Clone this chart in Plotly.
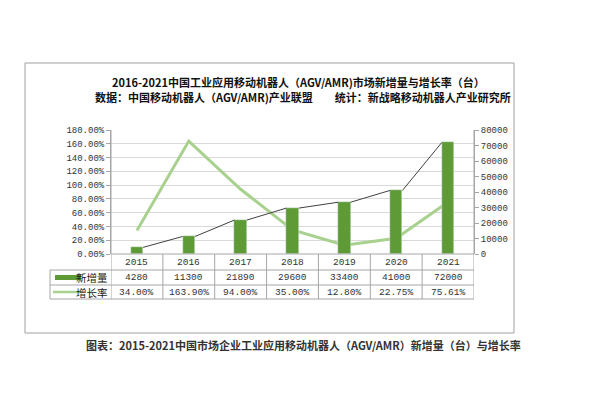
import plotly.graph_objects as go

years = ["2015", "2016", "2017", "2018", "2019", "2020", "2021"]
new_units = [4280, 11300, 21890, 29600, 33400, 41000, 72000]
growth_pct = [34.00, 163.90, 94.00, 35.00, 12.80, 22.75, 75.61]
growth_labels = ["34.00%", "163.90%", "94.00%", "35.00%", "12.80%", "22.75%", "75.61%"]

title1 = "2016-2021中国工业应用移动机器人（AGV/AMR)市场新增量与增长率（台）"
title2 = "数据：中国移动机器人（AGV/AMR)产业联盟　　统计：新战略移动机器人产业研究所"
caption = "图表：2015-2021中国市场企业工业应用移动机器人（AGV/AMR）新增量（台）与增长率"
series_names = ["新增量", "增长率"]

W, H = 590, 395
L, R, T, B = 103, 466, 122, 246
BAR_C = "#5E9A35"
LINE_C = "#A9D18E"
GRID_C = "#D9D9D9"
AX_C = "#A6A6A6"
MONO = "Liberation Mono"
CJK = "Noto Sans CJK SC"

def xp(px):
    return (px - L) / (R - L)

def yp(py):
    return (B - py) / (B - T)

n = len(years)
xs = list(range(n))
bw = 0.24

fig = go.Figure()
fig.add_trace(go.Bar(x=xs, y=new_units, width=bw, marker_color=BAR_C,
                     yaxis="y2", name=series_names[0], showlegend=False))
# series lines between bar tops
sx, sy = [], []
for i in range(n - 1):
    sx += [xs[i] + bw / 2, xs[i + 1] - bw / 2, None]
    sy += [new_units[i], new_units[i + 1], None]
fig.add_trace(go.Scatter(x=sx, y=sy, mode="lines", yaxis="y2",
                         line=dict(color="#404040", width=1), showlegend=False,
                         hoverinfo="skip"))
fig.add_trace(go.Scatter(x=xs, y=growth_pct, mode="lines", name=series_names[1],
                         line=dict(color=LINE_C, width=3), showlegend=False))

shapes = []
anns = []
# table geometry
rows = [246, 262, 277, 291]
tl = 42
line = dict(color=AX_C, width=1)
shapes.append(dict(type="line", xref="paper", yref="paper", x0=xp(L), x1=xp(R),
                   y0=yp(rows[0]), y1=yp(rows[0]), line=line))
for r in rows[1:]:
    shapes.append(dict(type="line", xref="paper", yref="paper", x0=xp(tl), x1=xp(R),
                       y0=yp(r), y1=yp(r), line=line))
shapes.append(dict(type="line", xref="paper", yref="paper", x0=xp(tl), x1=xp(tl),
                   y0=yp(rows[1]), y1=yp(rows[3]), line=line))
for i in range(n + 1):
    xv = i - 0.5
    shapes.append(dict(type="line", xref="x", yref="paper", x0=xv, x1=xv,
                       y0=yp(rows[3]), y1=yp(rows[0]) if 0 < i < n else 1,
                       line=line))
# legend keys
shapes.append(dict(type="line", xref="paper", yref="paper", x0=xp(47), x1=xp(73),
                   y0=yp(269.5), y1=yp(269.5), line=dict(color=BAR_C, width=5)))
shapes.append(dict(type="line", xref="paper", yref="paper", x0=xp(45), x1=xp(74),
                   y0=yp(284), y1=yp(284), line=dict(color=LINE_C, width=2.5)))
for k, nm in enumerate(series_names):
    anns.append(dict(text=nm, xref="paper", yref="paper", x=xp(102), y=yp((rows[k + 1] + rows[k + 2]) / 2),
                     xanchor="right", yanchor="middle", showarrow=False,
                     font=dict(family=CJK, size=10.5, color="#222")))
for i in range(n):
    anns.append(dict(text=years[i], xref="x", yref="paper", x=xs[i], y=yp((rows[0] + rows[1]) / 2),
                     showarrow=False, yanchor="middle", font=dict(family=MONO, size=9.5, color="#333")))
    anns.append(dict(text=str(new_units[i]), xref="x", yref="paper", x=xs[i], y=yp((rows[1] + rows[2]) / 2),
                     showarrow=False, yanchor="middle", font=dict(family=MONO, size=9.5, color="#333")))
    anns.append(dict(text=growth_labels[i], xref="x", yref="paper", x=xs[i], y=yp((rows[2] + rows[3]) / 2),
                     showarrow=False, yanchor="middle", font=dict(family=MONO, size=9.5, color="#333")))
# titles
anns.append(dict(text="<b>" + title1 + "</b>", xref="paper", yref="paper", x=xp(290), y=yp(74),
                 showarrow=False, yanchor="middle", font=dict(family=CJK, size=11, color="#111")))
anns.append(dict(text="<b>" + title2 + "</b>", xref="paper", yref="paper", x=xp(295), y=yp(89.5),
                 showarrow=False, yanchor="middle", font=dict(family=CJK, size=11, color="#111")))
anns.append(dict(text="<b>" + caption + "</b>", xref="paper", yref="paper", x=xp(295), y=yp(337),
                 showarrow=False, yanchor="middle", font=dict(family=CJK, size=11, color="#333")))
# outer border
shapes.append(dict(type="rect", xref="paper", yref="paper", x0=xp(17), x1=xp(506),
                   y0=yp(325), y1=yp(55), line=dict(color="#A0A0A0", width=1)))

fig.update_layout(
    width=W, height=H, paper_bgcolor="white", plot_bgcolor="white",
    margin=dict(l=L, r=W - R, t=T, b=H - B),
    bargap=0,
    xaxis=dict(range=[-0.5, n - 0.5], showticklabels=False, showgrid=False,
               zeroline=False, showline=False, fixedrange=True),
    yaxis=dict(range=[0, 180], dtick=20, tickformat=".2f", ticksuffix="%",
               showgrid=True, gridcolor=GRID_C, gridwidth=1, zeroline=False,
               showline=True, linecolor=AX_C, ticks="outside", ticklen=4,
               tickcolor=AX_C, tickfont=dict(family=MONO, size=9, color="#333")),
    yaxis2=dict(range=[0, 80000], dtick=10000, tickformat="d", overlaying="y", side="right",
                showgrid=False, zeroline=False, showline=True, linecolor=AX_C,
                ticks="outside", ticklen=4, tickcolor=AX_C,
                tickfont=dict(family=MONO, size=9, color="#333")),
    shapes=shapes, annotations=anns, showlegend=False,
)
fig.write_html("out.html")
